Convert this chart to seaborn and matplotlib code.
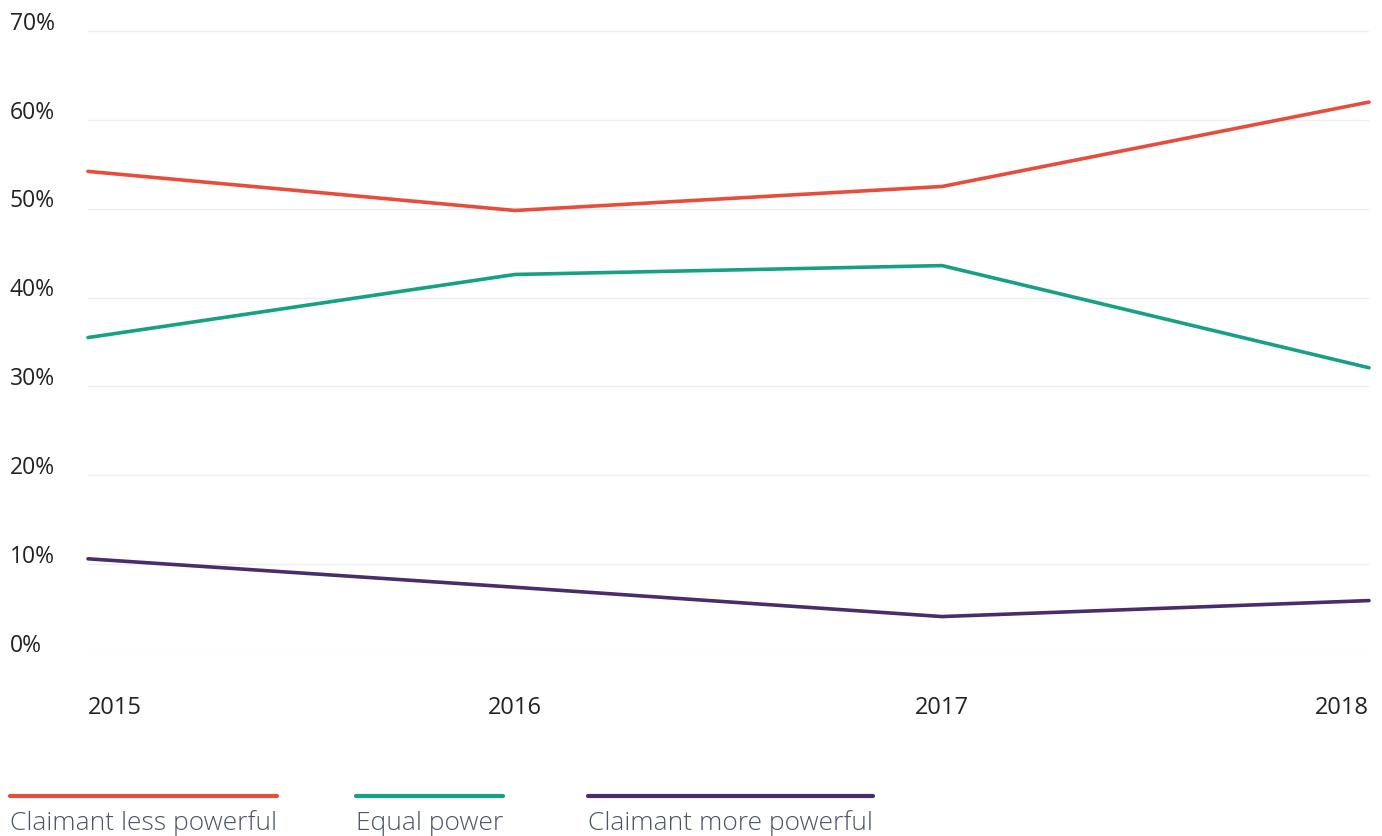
import pandas as pd
import matplotlib.pyplot as plt
import seaborn as sns
from matplotlib.lines import Line2D

years = [2015, 2016, 2017, 2018]
series_names = ["Claimant less powerful", "Equal power", "Claimant more powerful"]
less_powerful = [54.2, 49.8, 52.5, 62.0]
equal_power = [35.5, 42.6, 43.6, 32.1]
more_powerful = [10.6, 7.4, 4.1, 5.9]
y_ticks = [0, 10, 20, 30, 40, 50, 60, 70]

colors = {
    "Claimant less powerful": "#e74c3c",
    "Equal power": "#16a085",
    "Claimant more powerful": "#4a2c6b",
}

df = pd.DataFrame({
    "year": years * 3,
    "value": less_powerful + equal_power + more_powerful,
    "series": [s for s in series_names for _ in years],
})

sns.set_style("white")
plt.rcParams["font.family"] = ["Open Sans", "DejaVu Sans"]

W, H = 1382, 836
fig = plt.figure(figsize=(W / 100, H / 100), dpi=100)
ax = fig.add_axes([88 / W, (H - 653) / H, (1369 - 88) / W, (653 - 31) / H])

sns.lineplot(data=df, x="year", y="value", hue="series", palette=colors,
             linewidth=2.6, legend=False, ax=ax, clip_on=False)

ax.set_xlim(years[0], years[-1])
ax.set_ylim(0, 70)
ax.set_xlabel("")
ax.set_ylabel("")
for sp in ax.spines.values():
    sp.set_visible(False)

# grid lines
for t in y_ticks:
    ax.axhline(t, color="#eeeeee", lw=1, zorder=0)
ax.set_xticks([])
ax.set_yticks([])

# y labels sit just above the grid lines, left of the plot area
ytrans = ax.get_yaxis_transform()
for t in y_ticks:
    ax.text(-78 / (1369 - 88), t + 0.15, f"{t}%", transform=ytrans, ha="left",
            va="baseline", fontsize=16.5, color="#222222")

# x labels
xtrans = ax.get_xaxis_transform()
for i, yr in enumerate(years):
    ha = "left" if i == 0 else ("right" if i == len(years) - 1 else "center")
    ax.text(yr, -0.088, str(yr), transform=xtrans, ha=ha, va="center",
            fontsize=17, color="#222222")

# manual legend: text with a line as wide as the text above it
starts = [10, 356, 588]
fig.canvas.draw()
renderer = fig.canvas.get_renderer()
for name, x0 in zip(series_names, starts):
    txt = fig.text(x0 / W, (H - 830) / H, name, ha="left", va="baseline",
                   fontsize=19, fontweight="light", color="#4a5568")
    bb = txt.get_window_extent(renderer=renderer)
    fig.add_artist(Line2D([bb.x0 / W, bb.x1 / W], [(H - 796) / H] * 2,
                          color=colors[name], lw=3, transform=fig.transFigure))

fig.savefig("out.png", dpi=100)
